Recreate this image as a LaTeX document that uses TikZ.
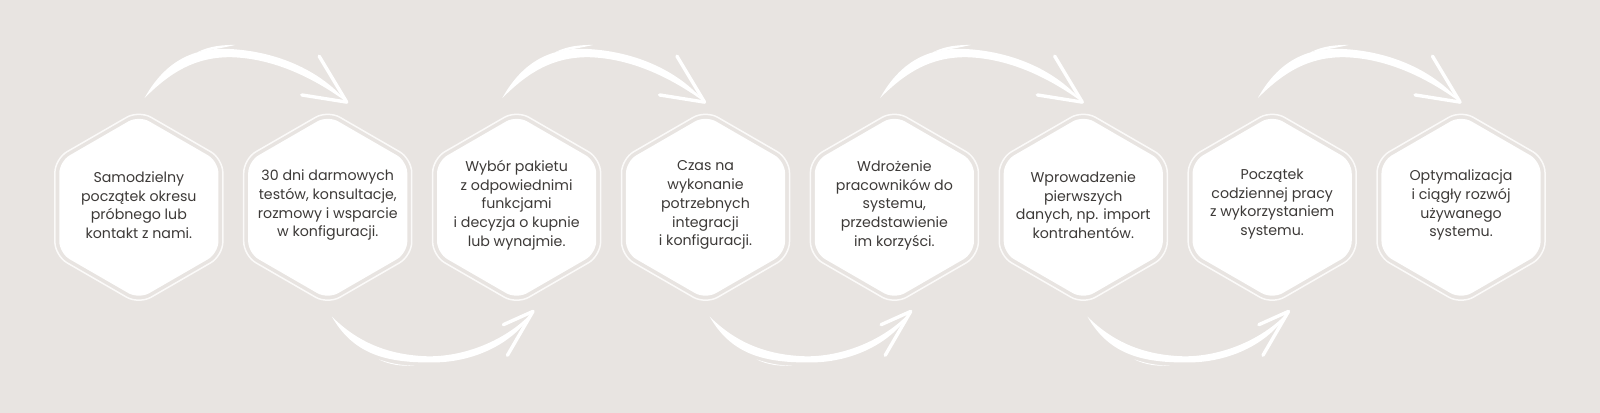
\documentclass[tikz,border=0pt]{standalone}
\usepackage{fontspec}
\setmainfont{Poppins}
\definecolor{bg}{HTML}{E8E4E1}
\definecolor{txtc}{HTML}{3D3A38}
\definecolor{rim}{HTML}{FBFAF9}
\tikzset{
  hexfill/.style={fill=white, rounded corners=12pt},
  hexrim/.style={draw=rim, line width=1.5pt, rounded corners=14pt},
  steptext/.style={text=txtc, align=center, inner sep=0pt,
    font=\fontsize{14.2}{18.7}\selectfont},
  brush/.style={fill=white},
  headline/.style={draw=white, line width=3.4pt, line cap=round},
  hexa/.pic={
    \path[hexrim] (90:95) -- (30:95) -- (-30:95) -- (-90:95) -- (-150:95) -- (150:95) -- cycle;
    \path[hexfill] (90:90) -- (30:90) -- (-30:90) -- (-90:90) -- (-150:90) -- (150:90) -- cycle;
  },
  uparrow/.pic={
    \path[brush] (-14,-107) .. controls (6,-143) and (34,-157) .. (70,-155)
      .. controls (124,-152) and (164,-128) .. (184,-103)
      .. controls (154,-125) and (114,-146) .. (70,-147)
      .. controls (36,-147) and (12,-133) .. (-14,-107) -- cycle;
    \path[brush] (38,-152) .. controls (50,-158) and (62,-159) .. (75,-159)
      .. controls (62,-156) and (50,-154) .. (38,-152) -- cycle;
    \path[headline] (157,-148) -- (184,-103);
    \path[headline] (140,-110) -- (184,-103);
  },
  downarrow/.pic={
    \path[brush] (4,107) .. controls (29,132) and (59,145) .. (99,146)
      .. controls (139,146) and (179,127) .. (201,102)
      .. controls (184,132) and (144,153) .. (99,152)
      .. controls (54,152) and (24,142) .. (4,107) -- cycle;
    \path[brush] (50,149) .. controls (62,153) and (72,155) .. (85,155)
      .. controls (72,156) and (60,154) .. (50,149) -- cycle;
    \path[headline] (176,145) -- (201,102);
    \path[headline] (172,115) -- (201,102);
  }
}
\begin{document}
\begin{tikzpicture}[x=1.021pt, y=-1.021pt]
\useasboundingbox (0,0) rectangle (1567.1,404.5);
\fill[bg] (0,0) rectangle (1567.1,404.5);
\foreach \i/\cx in {1/136,2/321,3/506,4/691,5/876,6/1061,7/1246,8/1431}{
  \coordinate (c\i) at (\cx,203);
  \pic at (c\i) {hexa};
}
\node[steptext] (t1) at (136,201) {Samodzielny\\początek okresu\\próbnego lub\\kontakt z nami.};
\node[steptext] (t2) at (321,201) {30 dni darmowych\\testów, konsultacje,\\rozmowy i wsparcie\\w konfiguracji.};
\node[steptext] (t3) at (506,201) {Wybór pakietu\\z odpowiednimi\\funkcjami\\i decyzja o kupnie\\lub wynajmie.};
\node[steptext] (t4) at (691,201) {Czas na\\wykonanie\\potrzebnych\\integracji\\i konfiguracji.};
\node[steptext] (t5) at (876,201) {Wdrożenie\\pracowników do\\systemu,\\przedstawienie\\im korzyści.};
\node[steptext] (t6) at (1061,201) {Wprowadzenie\\pierwszych\\danych, np. import\\kontrahentów.};
\node[steptext] (t7) at (1246,200) {Początek\\codziennej pracy\\z wykorzystaniem\\systemu.};
\node[steptext] (t8) at (1431,201) {Optymalizacja\\i ciągły rozwój\\używanego\\systemu.};
\pic at ([xshift=20pt]c1) {uparrow};
\pic at (c3) {uparrow};
\pic at (c5) {uparrow};
\pic at (c7) {uparrow};
\pic at (c2) {downarrow};
\pic at (c4) {downarrow};
\pic at (c6) {downarrow};
\end{tikzpicture}
\end{document}
